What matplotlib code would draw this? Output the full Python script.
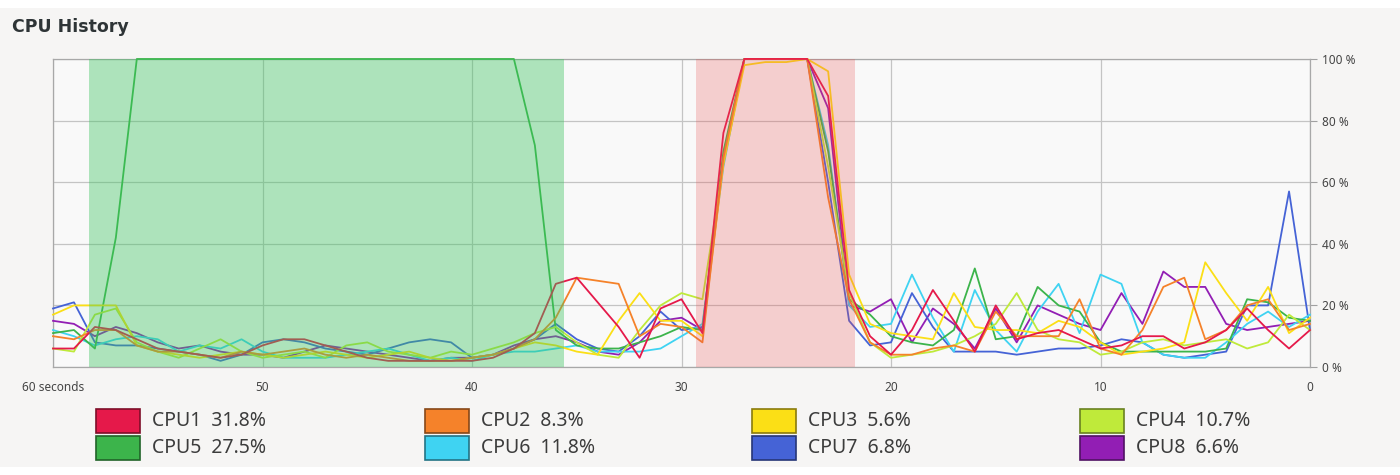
import numpy as np
import matplotlib
matplotlib.use('Agg')
import matplotlib.pyplot as plt
import matplotlib.colors as mcolors
from matplotlib.patches import Rectangle

# seconds ago, left (60) to right (0)
seconds = np.arange(60, -1, -1)

cpu1 = [6, 6, 13, 12, 9, 6, 5, 4, 3, 4,
        7, 9, 9, 7, 5, 3, 2, 2, 2, 2,
        2, 3, 6, 11, 27, 29, 21, 13, 3, 19,
        22, 11, 76, 100, 100, 100, 100, 88, 25, 10,
        4, 12, 25, 15, 5, 20, 9, 11, 12, 9,
        6, 7, 10, 10, 6, 8, 12, 19, 12, 6,
        12]
cpu2 = [10, 9, 12, 12, 7, 5, 5, 4, 3, 5,
        4, 5, 6, 4, 3, 4, 3, 2, 2, 2,
        3, 4, 6, 9, 16, 29, 28, 27, 10, 14,
        13, 8, 68, 100, 100, 100, 100, 55, 22, 8,
        4, 4, 6, 7, 5, 18, 10, 10, 10, 22,
        6, 4, 12, 26, 29, 9, 12, 20, 22, 12,
        14]
cpu3 = [17, 20, 20, 20, 7, 5, 4, 3, 4, 5,
        4, 3, 4, 5, 4, 3, 4, 5, 3, 2,
        3, 4, 6, 8, 7, 5, 4, 15, 24, 15,
        15, 10, 66, 98, 99, 99, 100, 96, 30, 14,
        11, 10, 9, 24, 13, 12, 12, 11, 15, 13,
        8, 4, 5, 6, 8, 34, 24, 15, 26, 11,
        16]
cpu4 = [6, 5, 17, 19, 8, 5, 3, 6, 9, 5,
        3, 4, 5, 3, 7, 8, 5, 4, 3, 5,
        4, 6, 8, 11, 13, 8, 4, 3, 12, 20,
        24, 22, 66, 100, 100, 100, 100, 65, 24, 8,
        3, 4, 5, 7, 10, 14, 24, 12, 9, 8,
        4, 5, 8, 9, 7, 8, 9, 6, 8, 17,
        12]
cpu5 = [11, 12, 6, 42, 100, 100, 100, 100, 100, 100,
        100, 100, 100, 100, 100, 100, 100, 100, 100, 100,
        100, 100, 100, 72, 12, 7, 6, 6, 8, 10,
        13, 12, 70, 100, 100, 100, 100, 70, 22, 17,
        10, 8, 7, 12, 32, 9, 10, 26, 20, 18,
        8, 5, 5, 5, 5, 5, 6, 22, 21, 16,
        15]
cpu6 = [12, 10, 7, 9, 10, 9, 5, 7, 6, 9,
        5, 3, 3, 3, 4, 5, 6, 4, 2, 3,
        2, 4, 5, 5, 6, 7, 5, 5, 5, 6,
        10, 14, 65, 100, 100, 100, 100, 72, 20, 13,
        14, 30, 16, 5, 25, 12, 5, 18, 27, 11,
        30, 27, 8, 4, 3, 3, 8, 14, 18, 13,
        17]
cpu7 = [19, 21, 8, 7, 7, 6, 5, 4, 2, 4,
        8, 9, 8, 6, 5, 4, 6, 8, 9, 8,
        3, 4, 6, 9, 14, 9, 6, 5, 10, 18,
        12, 13, 68, 100, 100, 100, 100, 60, 15, 7,
        8, 24, 13, 5, 5, 5, 4, 5, 6, 6,
        7, 9, 8, 4, 3, 4, 5, 20, 20, 57,
        12]
cpu8 = [15, 14, 10, 13, 11, 8, 6, 7, 5, 4,
        4, 3, 5, 7, 6, 5, 4, 3, 2, 3,
        3, 4, 7, 9, 10, 8, 5, 4, 8, 15,
        16, 12, 67, 100, 100, 100, 100, 84, 20, 18,
        22, 8, 19, 14, 6, 19, 8, 20, 17, 14,
        12, 24, 14, 31, 26, 26, 14, 12, 13, 14,
        15]

cpu_names = ['CPU1', 'CPU2', 'CPU3', 'CPU4', 'CPU5', 'CPU6', 'CPU7', 'CPU8']
cpu_avg = [31.8, 8.3, 5.6, 10.7, 27.5, 11.8, 6.8, 6.6]
cpu_colors = ['#e5194a', '#f5822a', '#fbdf16', '#bfea3a',
              '#3cb44b', '#3fd3f2', '#4563d6', '#921eb4']
cpu_data = [cpu1, cpu2, cpu3, cpu4, cpu5, cpu6, cpu7, cpu8]

# highlighted intervals (seconds ago)
green_span = (58.3, 35.6)
red_span = (29.3, 21.7)

x_ticks = [60, 50, 40, 30, 20, 10, 0]
x_labels = ['60 seconds', '50', '40', '30', '20', '10', '0']
y_ticks = [0, 20, 40, 60, 80, 100]
y_labels = ['0 %', '20 %', '40 %', '60 %', '80 %', '100 %']

plt.rcParams['font.family'] = ['Noto Sans', 'DejaVu Sans']

fig = plt.figure(figsize=(14, 4.75), dpi=100, facecolor='#f6f5f4')
# white screenshot border strips
fig.patches.append(Rectangle((0, 1 - 8/475), 1, 8/475, transform=fig.transFigure,
                             facecolor='white', edgecolor='none', zorder=0))
fig.patches.append(Rectangle((0, 0), 1, 8/475, transform=fig.transFigure,
                             facecolor='white', edgecolor='none', zorder=0))

ax = fig.add_axes([53/1400, 108/475, 1257/1400, 308/475])
ax.set_facecolor('#f9f9f9')

for i in range(7, -1, -1):
    ax.plot(seconds, cpu_data[i], color=cpu_colors[i], lw=1.3, zorder=3, clip_on=False)

ax.axvspan(green_span[0], green_span[1], color='#3cc45f', alpha=0.4, lw=0, zorder=4)
ax.axvspan(red_span[0], red_span[1], color='#e8504f', alpha=0.25, lw=0, zorder=4)

ax.set_xlim(60, 0)
ax.set_ylim(0, 100)
ax.set_xticks(x_ticks)
ax.set_xticklabels(x_labels)
ax.set_yticks(y_ticks)
ax.set_yticklabels(y_labels)
ax.yaxis.tick_right()
ax.tick_params(axis='y', direction='out', length=5, width=0.8, color='#a0a0a0',
               labelsize=8.5, labelcolor='#444444', pad=4)
ax.tick_params(axis='x', length=0, labelsize=8.5, labelcolor='#444444', pad=10)
ax.grid(True, color='#c4c4c4', lw=0.9, zorder=1)
for s in ax.spines.values():
    s.set_color('#a8a8a8')
    s.set_linewidth(0.9)

fig.text(12/1400, 1 - 27/475, 'CPU History', fontsize=12.5, fontweight='bold',
         family='DejaVu Sans', color='#2e3436', va='center', ha='left')

# legend: 4 columns x 2 rows
col_x = [96, 425, 752, 1080]
row_y = [421, 448]
for i, name in enumerate(cpu_names):
    cx = col_x[i % 4]
    cy = row_y[i // 4]
    edge = np.array(mcolors.to_rgb(cpu_colors[i])) * 0.55
    fig.patches.append(Rectangle((cx/1400, 1 - (cy + 12)/475), 44/1400, 24/475,
                                 transform=fig.transFigure, facecolor=cpu_colors[i],
                                 edgecolor=edge, lw=1.2, zorder=2))
    fig.text((cx + 56)/1400, 1 - cy/475, f'{name}  {cpu_avg[i]}%', fontsize=14,
             color='#3c3c3c', va='center', ha='left')

plt.savefig('out.png', dpi=100, facecolor=fig.get_facecolor())
